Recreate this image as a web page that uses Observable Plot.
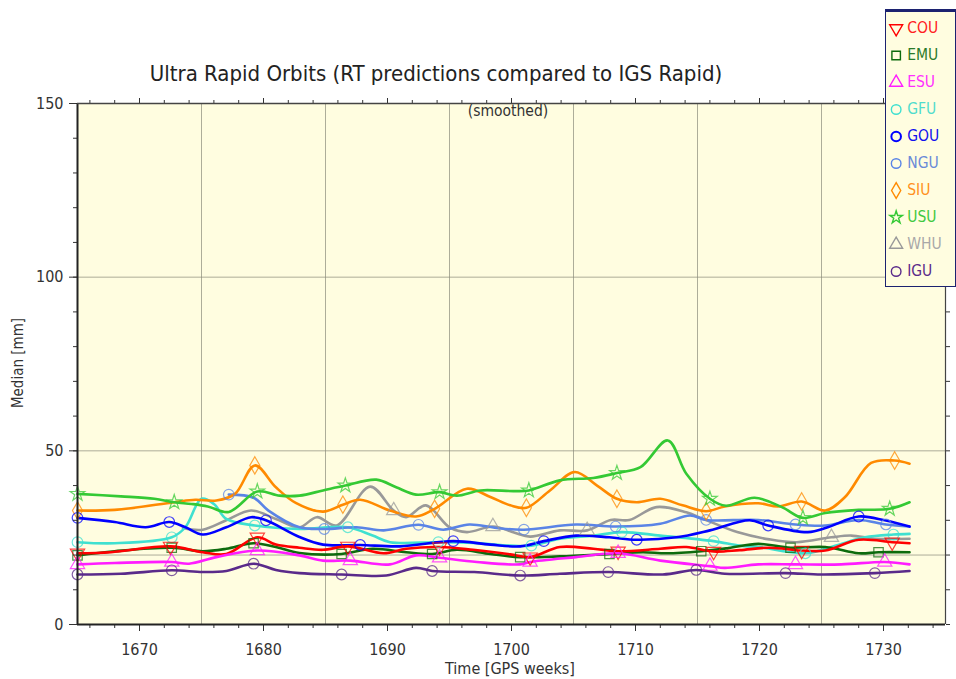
<!DOCTYPE html>
<html><head><meta charset="utf-8">
<script src="https://cdn.jsdelivr.net/npm/d3@7"></script>
<script src="https://cdn.jsdelivr.net/npm/@observablehq/plot@0.6"></script>
<style>
body{margin:0;background:#fff;}
#wrap{position:relative;width:956px;height:679px;overflow:hidden;font-family:"Liberation Sans Narrow","DejaVu Sans Condensed",sans-serif;color:#333}
.lbl{position:absolute;white-space:nowrap;}
#title{left:0;width:872px;text-align:center;top:61px;font-size:22px;color:#222}
#smooth{left:458px;width:100px;text-align:center;top:102px;font-size:15.5px;color:#333}
#xlab{left:410px;width:200px;text-align:center;top:659px;font-size:16px;color:#333}
#ylab{left:-32px;width:100px;text-align:center;top:354px;font-size:15px;transform:rotate(-90deg);color:#333}
#legend{position:absolute;left:885px;top:9px;width:69px;height:274px;border:1.5px solid #1c2270;border-top:3px solid #1c2270;background:#fffde0;}
</style></head><body>
<div id="wrap">
<div id="chart"></div>
<div class="lbl" id="title">Ultra Rapid Orbits (RT predictions compared to IGS Rapid)</div>
<div class="lbl" id="smooth">(smoothed)</div>
<div class="lbl" id="xlab">Time [GPS weeks]</div>
<div class="lbl" id="ylab">Median [mm]</div>
<div id="legend"></div>
</div>
<script>
// ---- data: [GPS week, median mm, marker flag] ----
const COU = [[1665,20.5,1],[1667.7,20.8],[1672.5,22.5,1],[1675.1,20.8],[1677,20.3],[1679.5,25.1,1],[1681,23],[1682.9,22.1],[1684.8,21.5],[1686.8,22.5,1],[1689.7,20.5],[1691.5,21.8],[1694.2,22.3,1],[1696.9,21.5],[1699.9,20.2],[1701.5,19.4,1],[1703.9,22.3],[1706.6,21.8],[1708.6,21.1,1],[1712,21.8],[1714.1,22.3],[1716.3,21.0,1],[1718.4,21.4],[1720.8,22.1],[1723.4,21.3,1],[1725.3,21.3],[1728,24.4],[1730.7,23.7,1],[1732.1,23.4]];
const EMU = [[1665,19.9,1],[1668,21.1],[1672.6,22.1,1],[1675.1,21.1],[1677,21.8],[1679.2,23.4,1],[1681,22.3],[1682.9,20.6],[1686.3,20.3,1],[1688.8,21.8],[1691.5,20.8],[1693.6,20.3,1],[1695.6,21.5],[1698.3,20.3],[1700.7,19.4,1],[1703.9,19.6],[1707.9,20.3,1],[1710.6,20.8],[1712.5,20.5],[1715.3,21.1,1],[1717.5,22],[1719.9,23.2],[1722.5,22.1,1],[1725.3,22.3],[1728,20.5],[1729.6,20.8,1],[1732.1,20.8]];
const ESU = [[1665,17.3,1],[1668,17.7],[1672.6,18,1],[1674,17.5],[1676.2,19.4],[1679.5,21.3,1],[1682.9,19.9],[1684.8,18.4],[1687,18.4,1],[1690.2,17.3],[1692.3,19.9],[1694.2,19.2,1],[1697.2,18],[1700.7,17.3],[1701.5,18,1],[1705.2,19.4],[1708.6,20.5,1],[1712,18.4],[1716,16.8,1],[1717.2,16.3],[1719.9,17.3],[1722.9,17.3,1],[1726.6,17.3],[1730.1,18,1],[1732.1,17.3]];
const GFU = [[1665,23.7,1],[1668,23.4],[1672.6,25.1,1],[1673.7,28],[1675,36.2],[1676,34.7],[1677,30.4],[1679.3,28.5,1],[1682.9,27.5],[1686.8,28,1],[1688.8,25.6],[1690.2,23.7],[1694.1,23.7,1],[1696.9,23.5],[1699.9,22.7],[1701.6,22.7,1],[1703.9,24.7],[1706.6,25.6],[1708.9,26.6,1],[1712,25.6],[1716.3,24,1],[1718.4,22.7],[1719.9,22.3],[1723.7,20.5,1],[1726.1,22.7],[1728.5,25.1],[1730.8,25.9,1],[1732.1,26.1]];
const GOU = [[1665,30.7,1],[1668,29.5],[1670.5,28],[1672.4,29.5,1],[1673.7,28],[1675.1,25.9],[1677,28],[1679,30.9],[1680.2,30,1],[1682.9,25.2],[1684.8,23],[1687.8,22.9,1],[1691,22.5],[1695.3,24,1],[1698.3,23],[1700.7,22.5],[1702.6,24,1],[1705.2,25.6],[1707.9,25.1],[1710.1,24.4,1],[1713.3,25.1],[1716,27.1],[1719.2,30],[1720.7,28.5,1],[1723.9,26.6],[1725.5,28],[1728,31.1,1],[1730.1,30],[1732.1,28.2]];
const NGU = [[1677.2,37.4,1],[1679.2,36.5],[1680.4,32.8],[1682.9,28],[1684.9,27.5,1],[1687.5,28],[1689.7,27.1],[1692.5,28.7,1],[1694.5,27.3],[1696.6,28.8],[1698.8,27.8],[1701,27.3,1],[1705.2,28.8],[1708.4,28.2,1],[1712,29],[1714.4,31.4],[1715.7,30.1,1],[1719.9,30.1],[1722.9,28.8,1],[1725.3,28.5],[1728,30.1],[1730.2,28.8,1],[1732.1,28.2]];
const SIU = [[1665,32.8,1],[1668,33],[1672.8,35.2],[1674.5,35.9],[1676.2,35.7],[1677.7,37.6],[1679.3,45.8,1],[1681,39.5],[1682.6,35],[1684.8,32.5],[1686.4,34.5,1],[1687.8,35.9],[1690.2,32.8],[1692.3,31.1],[1693.8,33.3,1],[1696.4,39.1],[1698.3,36.7],[1699.9,34.3],[1701.2,33.6,1],[1703.1,38.6],[1705.1,43.9],[1706.9,40],[1708.5,36.2,1],[1710.1,35.2],[1712,36.2],[1713.8,34.3],[1715.7,32.6,1],[1717.2,34],[1719.9,34.9],[1721.5,34],[1723.4,35.4,1],[1725.3,32.8],[1726.9,36.7],[1729,46.5],[1730.9,47.2,1],[1732.1,46.3]];
const USU = [[1665,37.6,1],[1668.5,36.9],[1671.2,36.2],[1672.8,35.2,1],[1674.2,34.7],[1675.5,34],[1677.2,32.4],[1679.5,38.3,1],[1681.3,37.1],[1682.9,37.1],[1684.8,38.6],[1686.6,40,1],[1689.1,41.7],[1690.7,39.5],[1692.3,37.4],[1694.2,38.1,1],[1695.6,37.1],[1697.5,38.6],[1700.2,38.4],[1701.4,38.6,1],[1703.9,41.5],[1706.6,42.2],[1708.5,43.6,1],[1710.4,45.3],[1712.6,53],[1714.1,43.4],[1716,36.2,1],[1717.3,34.2],[1719.6,36.5],[1721.8,33.8],[1723.5,30.7,1],[1725.3,32.1],[1728,33],[1730.5,33.3,1],[1732.1,35.2]];
const WHU = [[1673.5,27.8],[1675.1,27.3],[1677,30],[1679,32.8],[1681,30.4],[1682.9,28],[1684.3,30.9],[1685.9,28.5],[1688.6,39.7],[1690.5,32.8,1],[1691.5,30.9],[1693.1,34.3],[1695,28],[1696.4,26.6],[1698.5,28.2,1],[1700.2,26.5],[1701.5,25.3],[1703.9,27.1],[1706.1,27.1,1],[1708,30.1],[1709.5,30.1],[1711.7,33.8],[1714.1,32.3],[1715.4,30.5],[1718.2,26.6],[1720.8,24.5],[1723,23.7],[1725.8,25.1,1],[1727.4,25.6],[1729.3,24.7],[1732.1,24.7]];
const IGU = [[1665,14.4,1],[1668.5,14.6],[1672.6,15.6,1],[1675.1,15.1],[1677,15.4],[1679.2,17.5,1],[1681,15.7],[1682.9,14.8],[1686.3,14.4,1],[1689.9,14.1],[1692.3,16.3],[1693.6,15.4,1],[1697,15.1],[1700.7,14.1,1],[1703.9,14.6],[1707.8,15.1,1],[1712.2,14.4],[1714.9,15.7,1],[1717.2,14.6],[1722.1,14.8,1],[1725,14.4],[1729.3,14.8,1],[1732.1,15.4]];

const names = ["COU","EMU","ESU","GFU","GOU","NGU","SIU","USU","WHU","IGU"];
const colors = ["#ff0000","#0d6b0d","#ff1cff","#3fe0d0","#0000ff","#5a84e6","#ff8a00","#34c934","#999999","#5a2a8a"];
const legendColors = ["#ff2020","#2a7a2a","#ff30ff","#50dccc","#1010ee","#6a8ad8","#ff9020","#40c840","#a8a8a8","#5a2a8a"];
const yMajor = [0, 50, 100, 150];
const yMinor = [0,10,20,30,40,50,60,70,80,90,100,110,120,130,140,150];
const xMajor = [1670,1680,1690,1700,1710,1720,1730];
const xMinor = [1666,1668,1670,1672,1674,1676,1678,1680,1682,1684,1686,1688,1690,1692,1694,1696,1698,1700,1702,1704,1706,1708,1710,1712,1714,1716,1718,1720,1722,1724,1726,1728,1730,1732,1734];
const xGrid = [1675,1685,1695,1705,1715,1725];
const yGrid = [20, 50, 100];

const sqrt3 = Math.sqrt(3);
const triangleDown = {draw(ctx, size){ const y = -Math.sqrt(size / (sqrt3 * 3)); ctx.moveTo(0, -y*2); ctx.lineTo(-sqrt3*y, y); ctx.lineTo(sqrt3*y, y); ctx.closePath(); }};
const symbols = [triangleDown, "square", "triangle", "circle", "circle", "circle", "diamond", "star", "triangle", "circle"];
const seriesData = [COU, EMU, ESU, GFU, GOU, NGU, SIU, USU, WHU, IGU];

const rows = [];
seriesData.forEach((arr, i) => arr.forEach(d => rows.push({name: names[i], week: d[0], value: d[1], mark: d[2] === 1})));

const font = "'Liberation Sans Narrow','DejaVu Sans Condensed',sans-serif";
const marks = [
  Plot.frame({fill: "#fffde0"}),
  Plot.gridX(xGrid, {stroke: "#8a8a7a", strokeOpacity: 0.7}),
  Plot.gridY(yGrid, {stroke: "#8a8a7a", strokeOpacity: 0.7}),
];
const order = [8,3,5,6,7,4,1,0,2,9];
order.forEach(i => {
  const data = rows.filter(r => r.name === names[i]);
  marks.push(Plot.line(data, {x: "week", y: "value", stroke: colors[i], strokeWidth: 2.6, curve: "catmull-rom"}));
});
order.forEach(i => {
  const data = rows.filter(r => r.name === names[i] && r.mark);
  marks.push(Plot.dot(data, {x: "week", y: "value", stroke: colors[i], strokeWidth: 1.2, r: i === 7 ? 4.6 : 5.3, symbol: symbols[i], strokeOpacity: 0.75}));
});
marks.push(
  Plot.axisY(yMajor, {anchor: "left", tickSize: 8, tickPadding: 6, fontSize: 16, label: null, stroke: "#333"}),
  Plot.axisY(yMinor, {anchor: "left", tickSize: 4, text: null, label: null, stroke: "#333"}),
  Plot.axisY(yMinor, {anchor: "right", tickSize: 4, text: null, label: null, stroke: "#333"}),
  Plot.axisX(xMajor, {anchor: "bottom", tickSize: 7, tickPadding: 12, fontSize: 16, label: null, tickFormat: d => String(d), stroke: "#333"}),
  Plot.axisX(xMinor, {anchor: "bottom", tickSize: 4, text: null, label: null, stroke: "#333"}),
  Plot.axisX(xMinor, {anchor: "top", tickSize: 4, text: null, label: null, stroke: "#333"}),
  Plot.axisX(xMajor, {anchor: "top", tickSize: 6, text: null, label: null, stroke: "#333"}),
  Plot.ruleX([1665], {stroke: "#222", strokeWidth: 2}),
  Plot.ruleY([0], {stroke: "#222", strokeWidth: 2}),
  Plot.ruleY([150], {stroke: "#444", strokeWidth: 1.5}),
  Plot.ruleX([1735], {stroke: "#444", strokeWidth: 1.2})
);

const chart = Plot.plot({
  width: 956, height: 679,
  marginLeft: 77, marginRight: 11, marginTop: 103, marginBottom: 55,
  x: {domain: [1665, 1735]},
  y: {domain: [0, 150]},
  style: {fontFamily: font, fontSize: "16px", color: "#333", background: "transparent"},
  marks
});
document.getElementById("chart").appendChild(chart);

// legend
const legendRows = names.map((n, i) => ({name: n, i}));
const legend = Plot.plot({
  width: 69, height: 274, margin: 0,
  x: {domain: [0, 1], axis: null},
  y: {type: "point", domain: names, range: [14, 260], padding: 0, axis: null},
  style: {fontFamily: font, background: "transparent"},
  marks: [
    ...legendRows.map(r => Plot.dot([r], {x: () => 0.14, y: "name", symbol: symbols[r.i], stroke: colors[r.i], strokeWidth: r.name === "GOU" ? 2 : 1.4, r: r.i === 7 ? 4 : 4.8})),
    Plot.text(legendRows, {x: () => 0.3, y: "name", text: "name", textAnchor: "start", fill: d => legendColors[d.i], fontSize: 15.5})
  ]
});
document.getElementById("legend").appendChild(legend);
</script>
</body></html>
